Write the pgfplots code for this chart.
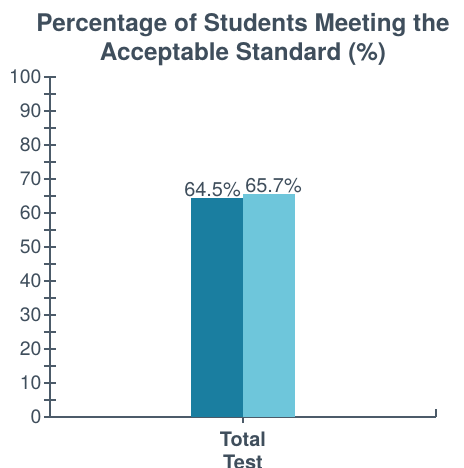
\documentclass[border=0pt]{standalone}
\usepackage{fontspec}
\setmainfont{TeX Gyre Heros}
\usepackage{pgfplots}
\pgfplotsset{compat=1.18}
\definecolor{darkbar}{HTML}{1A7EA0}
\definecolor{lightbar}{HTML}{6EC6DB}
\definecolor{slate}{HTML}{3F4E5C}
\definecolor{axisc}{HTML}{4C5B69}
\begin{document}
\begin{tikzpicture}
\begin{axis}[
  scale only axis,
  width=386bp, height=340bp,
  at={(0,0)}, anchor=origin,
  ymin=0, ymax=100,
  xmin=-1, xmax=1,
  ybar=0pt, bar width=52bp,
  axis x line=bottom, axis y line=left,
  axis line style={axisc, line width=1.2bp, -},
  ytick={0,10,...,100},
  minor ytick={5,15,...,95},
  tick align=center,
  major tick length=12bp, minor tick length=12bp,
  every tick/.style={axisc, line width=1.1bp},
  yticklabel style={font=\fontsize{19.5}{22}\selectfont, text=slate, xshift=1bp},
  /pgf/number format/assume math mode=true,
  xtick={0}, xticklabels={},
  extra x ticks={1}, extra x tick labels={},
  extra x tick style={tick align=inside, major tick length=8bp},
  nodes near coords={\pgfmathprintnumber[fixed,precision=1,fixed zerofill]{\pgfplotspointmeta}\%},
  every node near coord/.append style={font=\fontsize{20}{22}\selectfont, text=slate, inner sep=1bp},
  clip=false,
]
\addplot[fill=darkbar, draw=none, every node near coord/.append style={xshift=-4.5bp}] coordinates {(0,64.5)};
\addplot[fill=lightbar, draw=none, every node near coord/.append style={xshift=4.5bp}] coordinates {(0,65.7)};
\coordinate (O) at (rel axis cs:0,0);
\node[anchor=south, align=center, font=\bfseries\fontsize{24.4}{29}\selectfont, text=slate, inner sep=0pt] at ([yshift=11bp]rel axis cs:0.5,1) {Percentage of Students Meeting the\\Acceptable Standard (\%)};
\node[anchor=north, align=center, font=\bfseries\fontsize{20}{23}\selectfont, text=slate, inner sep=0pt] at ([yshift=-15bp]rel axis cs:0.5,0) {Total\\Test};
\end{axis}
\pgfresetboundingbox
\useasboundingbox ([shift={(-50bp,-51bp)}]O) rectangle ([shift={(414bp,417bp)}]O);
\end{tikzpicture}
\end{document}
